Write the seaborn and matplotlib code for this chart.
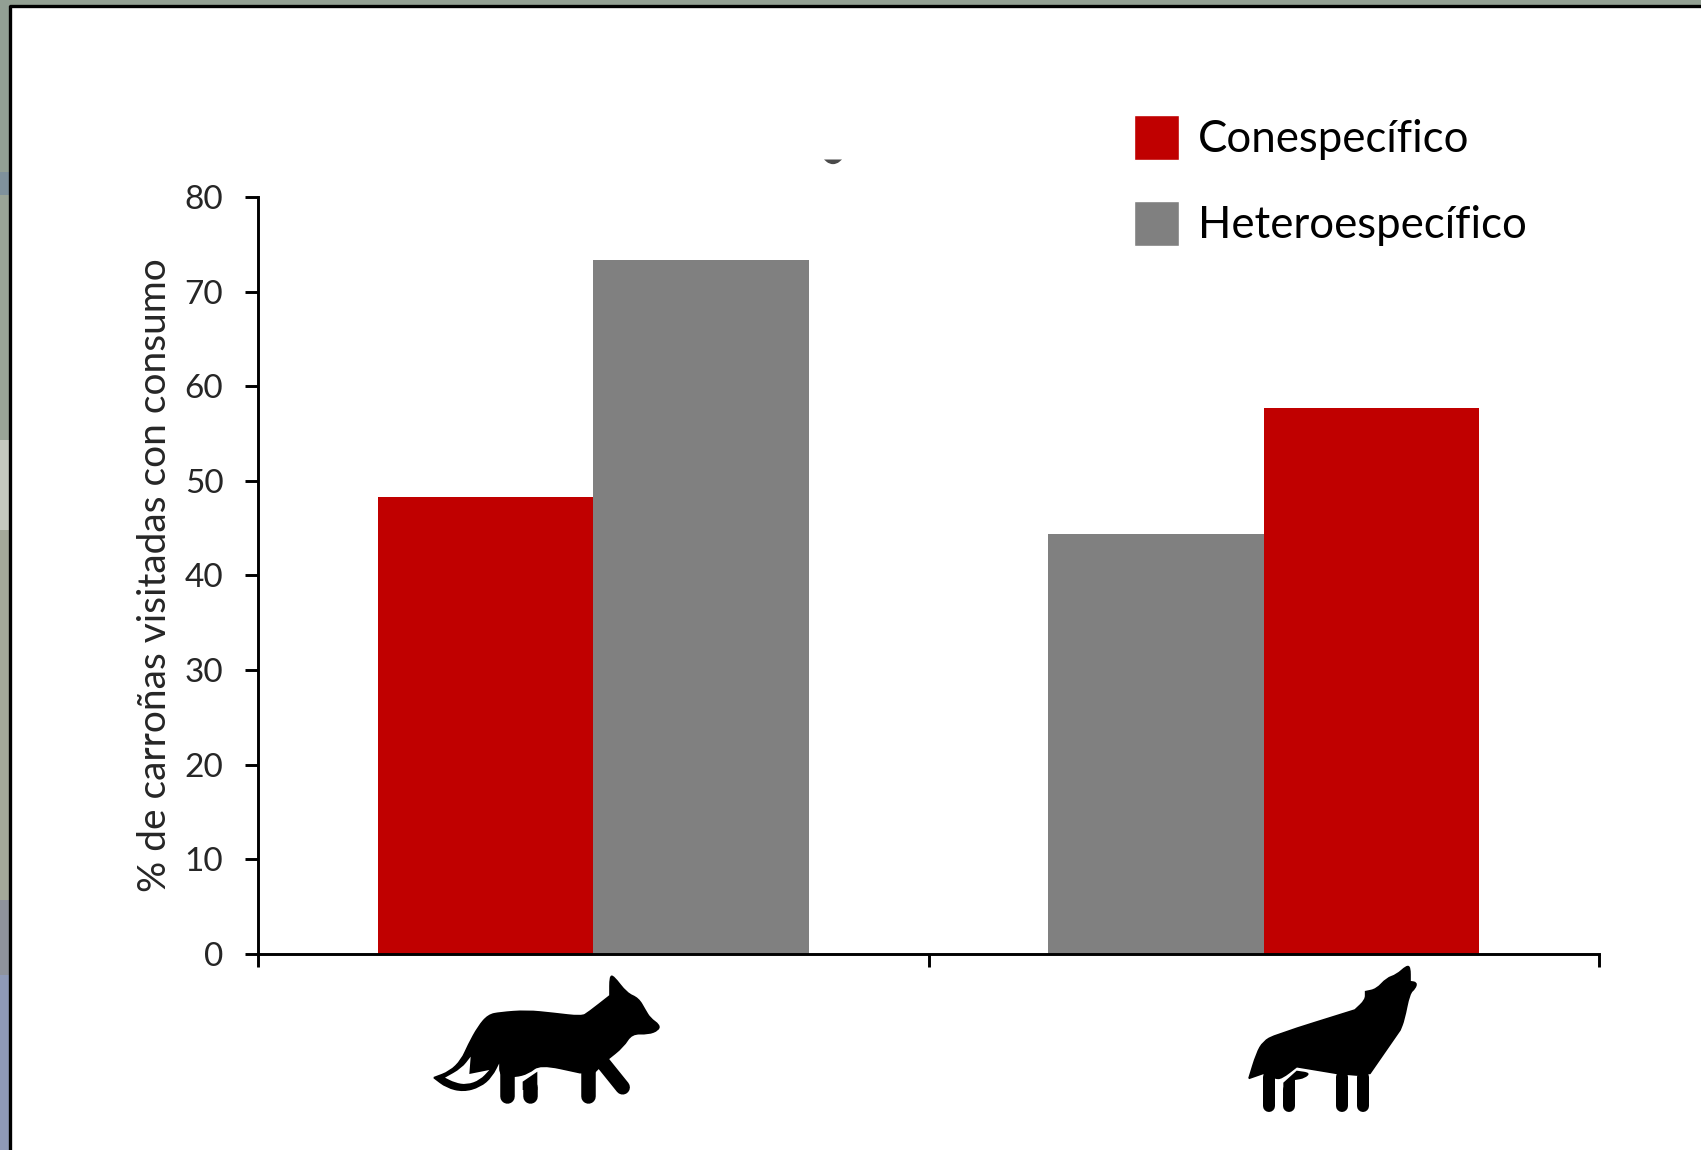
import numpy as np
import pandas as pd
import seaborn as sns
import matplotlib.pyplot as plt
from matplotlib.lines import Line2D
from matplotlib.patches import Patch, PathPatch, Rectangle
from matplotlib.path import Path
from matplotlib.transforms import Affine2D

W, H = 1701, 1150

# valores
grupos = ['Zorro', 'Zorro', 'Lobo', 'Lobo']
posicion = ['izq', 'der', 'izq', 'der']
tipos = ['Conespecífico', 'Heteroespecífico', 'Heteroespecífico', 'Conespecífico']
valores = [48.3, 73.3, 44.4, 57.7]
y_ticks = [0, 10, 20, 30, 40, 50, 60, 70, 80]
colores = {'Conespecífico': '#C00000', 'Heteroespecífico': '#808080'}

# tramos de la foto de fondo que asoma por la izquierda
franjas_y = [0, 172, 195, 440, 530, 900, 975, 1150]
franjas_color = ['#929f94', '#7f919c', '#9aa497', '#c4c9bf', '#a3a89a', '#8f939c', '#8f9ab8']

sns.set_theme(style='white')
plt.rcParams['font.family'] = ['Lato', 'DejaVu Sans']

df = pd.DataFrame({'grupo': grupos, 'posicion': posicion, 'tipo': tipos, 'valor': valores})

fig = plt.figure(figsize=(W / 100, H / 100), dpi=100, facecolor='white')
px = Affine2D().scale(1 / W, -1 / H).translate(0, 1) + fig.transFigure

# marco: foto de fondo y panel blanco
fig.patches.append(Rectangle((0, 0), W, 5, transform=px, fc='#93a093', ec='none'))
for y0, y1, c in zip(franjas_y[:-1], franjas_y[1:], franjas_color):
    fig.patches.append(Rectangle((0, y0), 9, y1 - y0, transform=px, fc=c, ec='none'))
fig.add_artist(Line2D([10, 10, W], [H, 5.5, 5.5], transform=px, color='black', lw=2.4))

ax = fig.add_axes([258 / W, 1 - 953.7 / H, (1599 - 258) / W, (953.7 - 197) / H])
sns.barplot(data=df, x='grupo', y='valor', hue='posicion', order=['Zorro', 'Lobo'],
            hue_order=['izq', 'der'], width=0.643, gap=0, legend=False, ax=ax)

# cada barra toma el color de su tipo
for cont, pos in zip(ax.containers, ['izq', 'der']):
    fila = df[df['posicion'] == pos]
    for bar, t in zip(cont, fila['tipo']):
        bar.set_facecolor(colores[t])
        bar.set_edgecolor('none')

ax.set_xlim(-0.5, 1.5)
ax.set_ylim(0, 80)
ax.set_xticks([-0.5, 0.5, 1.5])
ax.set_xticklabels([])
ax.set_yticks(y_ticks)
ax.set_xlabel('')
ax.set_ylabel('% de carroñas visitadas con consumo', fontsize=28, color='#262626', labelpad=8.5)
ax.tick_params(axis='y', left=True, length=9.5, width=2.1, color='black', labelsize=24,
               labelcolor='#262626', pad=15.5)
ax.tick_params(axis='x', bottom=True, length=9.5, width=2.1, color='black')
sns.despine(ax=ax)
for s in ['left', 'bottom']:
    ax.spines[s].set_color('black')
    ax.spines[s].set_linewidth(2.1)

handles = [Patch(fc=colores['Conespecífico']), Patch(fc=colores['Heteroespecífico'])]
ax.legend(handles, ['Conespecífico', 'Heteroespecífico'], frameon=False, fontsize=31.5,
          labelcolor='black', handlelength=1.03, handleheight=1.2, handletextpad=0.43,
          labelspacing=0.93, loc='upper left', bbox_to_anchor=(1134 / W, 1 - 115 / H),
          bbox_transform=fig.transFigure, borderaxespad=0, borderpad=0)


def suave(puntos, x0, y0, color='black', borde=0.0):
    # contorno curvo por puntos medios; un vertice repetido queda como pico
    pts = np.array(puntos, dtype=float) / 3 + [x0, y0]
    sig = np.roll(pts, -1, axis=0)
    medios = (pts + sig) / 2
    verts = [medios[-1]]
    codes = [Path.MOVETO]
    for p, m in zip(pts, medios):
        verts += [p, m]
        codes += [Path.CURVE3, Path.CURVE3]
    return PathPatch(Path(verts, codes), transform=px, fc=color, ec=color, lw=borde)


def pata(p0, p1, x0, y0, ancho):
    a = np.array([p0, p1], dtype=float) / 3 + [x0, y0]
    return Line2D(a[:, 0], a[:, 1], transform=px, color='black', lw=ancho * 0.72,
                  solid_capstyle='round')


# manchita bajo el borde superior
fig.add_artist(suave([(0, 0), (0, 0), (54, 0), (54, 0), (38, 14), (16, 14)], 824, 159.5, '#4a4a4a'))

# zorro
zorro = [(102, 443), (102, 443), (150, 425), (185, 390), (205, 345), (235, 290), (265, 255),
         (300, 248), (380, 242), (460, 250), (545, 260), (565, 248), (630, 197), (630, 197),
         (630, 140), (640, 138), (680, 190), (715, 205), (735, 240), (750, 265), (778, 285),
         (775, 300), (745, 312), (695, 310), (670, 350), (620, 390), (620, 390), (585, 425),
         (585, 425), (540, 428), (540, 428), (420, 402), (385, 430), (345, 440), (300, 440),
         (300, 390), (300, 390), (275, 440), (240, 470), (190, 484), (140, 472)]
cola = [(135, 443), (135, 443), (185, 415), (212, 380), (212, 380), (208, 432), (208, 432),
        (268, 420), (268, 420), (240, 450), (200, 464), (165, 458)]
fig.add_artist(suave(zorro, 400, 930, borde=1.2))
fig.add_artist(suave(cola, 400, 930, 'white'))
for p0, p1, ancho in [((322, 420), (322, 498), 14.5), ((390, 470), (390, 498), 14.5),
                      ((563, 420), (563, 498), 14.5), ((610, 400), (668, 472), 14.5)]:
    fig.add_artist(pata(p0, p1, 400, 930, ancho))
fig.add_artist(suave([(368, 455), (368, 455), (412, 425), (412, 425), (412, 480), (412, 480),
                      (368, 480), (368, 480)], 400, 930))

# lobo
lobo = [(147, 445), (147, 445), (170, 370), (190, 335), (225, 315), (465, 240), (465, 240),
        (497, 210), (497, 185), (497, 185), (530, 178), (560, 145), (590, 135), (620, 108),
        (630, 112), (630, 155), (630, 155), (650, 158), (645, 175), (628, 190), (612, 270),
        (600, 300), (600, 300), (510, 430), (510, 430), (470, 435), (470, 435), (410, 430),
        (410, 430), (290, 410), (290, 410), (245, 445), (225, 445), (190, 430), (190, 430)]
fig.add_artist(suave(lobo, 1200, 930, borde=1.2))
fig.add_artist(suave([(250, 458), (250, 458), (290, 422), (290, 422), (332, 428), (315, 445),
                      (285, 450), (285, 450), (285, 500), (285, 500), (250, 500), (250, 500)],
                     1200, 930))
for x in [207, 268, 427, 488]:
    fig.add_artist(pata((x, 440 if x != 268 else 480), (x, 527), 1200, 930, 12))

fig.savefig('out.png', dpi=100)
